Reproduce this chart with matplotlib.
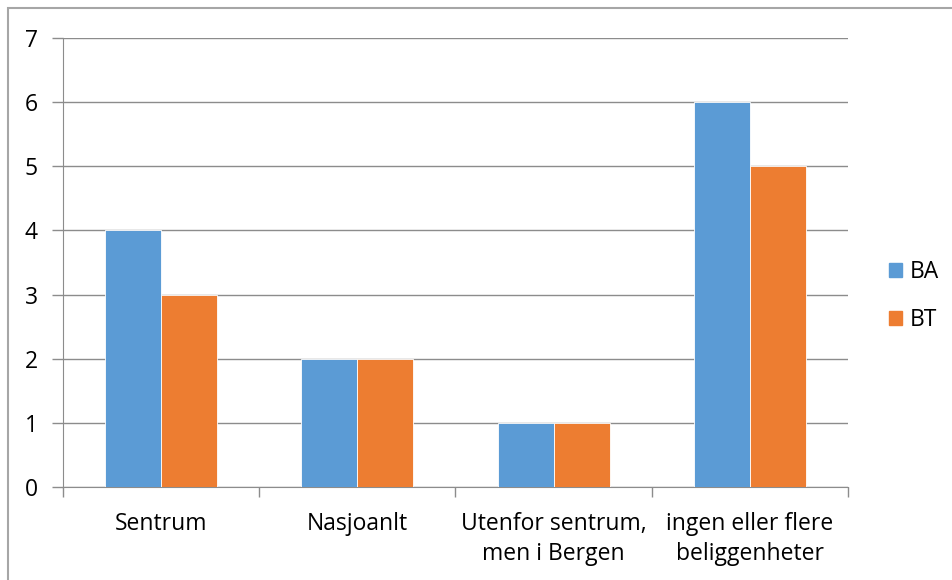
import matplotlib
matplotlib.use("Agg")
import matplotlib.pyplot as plt
from matplotlib.patches import Rectangle
import numpy as np

categories = ["Sentrum", "Nasjoanlt", "Utenfor sentrum,\nmen i Bergen", "ingen eller flere\nbeliggenheter"]
ba_values = [4, 2, 1, 6]
bt_values = [3, 2, 1, 5]
series_names = ["BA", "BT"]
y_ticks = [0, 1, 2, 3, 4, 5, 6, 7]

BLUE = "#5B9BD5"
ORANGE = "#ED7D31"
GRID = "#8C8C8C"

plt.rcParams['font.family'] = ['Open Sans', 'DejaVu Sans']
FS = 16.5

W, H = 953, 580
fig = plt.figure(figsize=(W/100, H/100), dpi=100)
ax = fig.add_axes([63/W, 1-487/H, (848-63)/W, (487-38)/H])

x = np.arange(len(categories))
bw = 56/196
ax.bar(x - bw/2, ba_values, width=bw, color=BLUE, edgecolor="white", linewidth=0.6, label=series_names[0], zorder=3)
ax.bar(x + bw/2, bt_values, width=bw, color=ORANGE, edgecolor="white", linewidth=0.6, label=series_names[1], zorder=3)

ax.set_xlim(-0.5, len(categories)-0.5)
ax.set_ylim(0, 7)
ax.set_yticks(y_ticks)
ax.set_yticklabels([str(v) for v in y_ticks], fontsize=FS)
ax.yaxis.grid(True, color=GRID, linewidth=1.0, zorder=0)
ax.set_axisbelow(True)

ax.set_xticks(x)
ax.set_xticklabels(categories, fontsize=FS, linespacing=1.32)
ax.set_xticks(np.arange(len(categories)+1) - 0.5, minor=True)
ax.tick_params(axis='x', which='major', length=0, pad=18)
ax.tick_params(axis='x', which='minor', length=7, color=GRID, width=1)
ax.tick_params(axis='y', length=8, color=GRID, width=1, pad=10)

for s in ["top", "right"]:
    ax.spines[s].set_visible(False)
ax.spines["left"].set_color(GRID)
ax.spines["bottom"].set_color(GRID)

handles = [Rectangle((0, 0), 1, 1, color=BLUE), Rectangle((0, 0), 1, 1, color=ORANGE)]
fig.legend(handles, series_names, loc="center left", bbox_to_anchor=(889/W, 1-296/H),
           frameon=False, fontsize=FS, handlelength=0.55, handleheight=0.55,
           handletextpad=0.35, labelspacing=1.05, borderpad=0, borderaxespad=0)

fig.patches.append(Rectangle((8/W, -0.1), 1.2, 1 - 8/H + 0.1, transform=fig.transFigure,
                             fill=False, edgecolor="#A6A6A6", linewidth=1.5))

fig.savefig("out.png", dpi=100)
